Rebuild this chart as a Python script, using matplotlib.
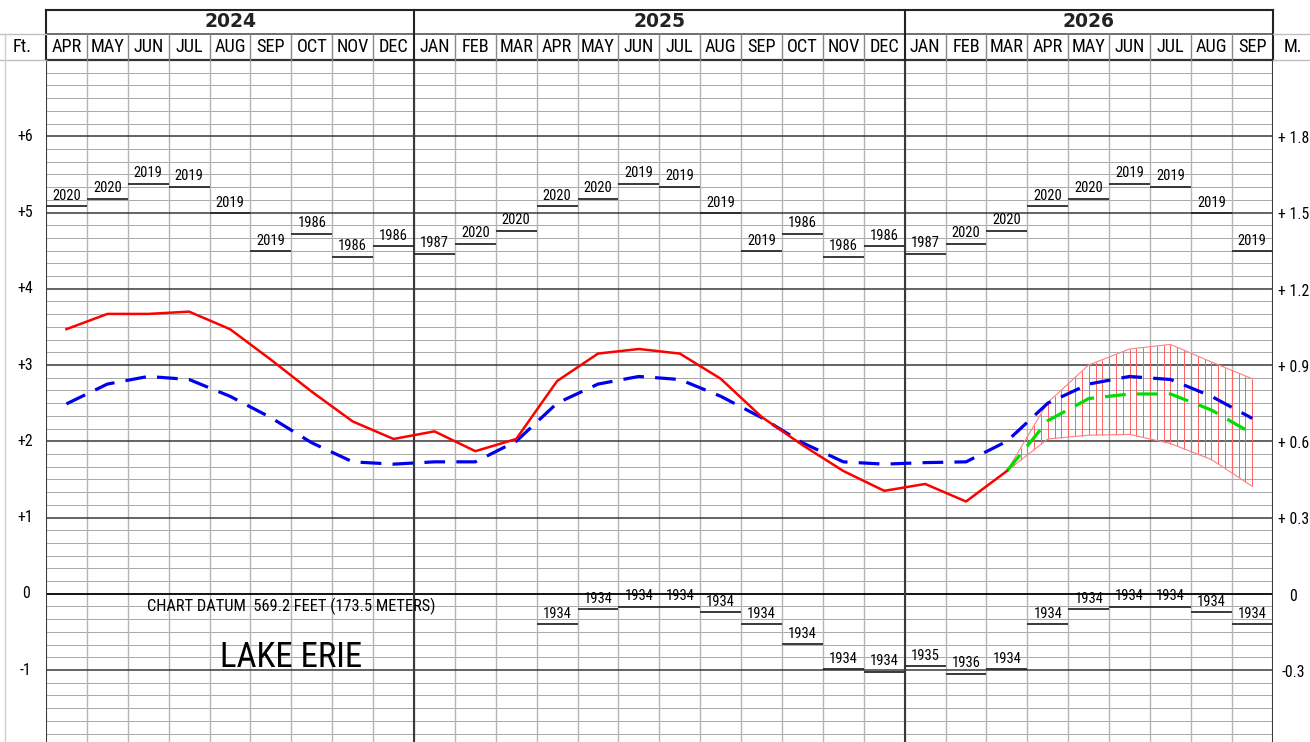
import matplotlib
matplotlib.use("Agg")
import matplotlib.pyplot as plt
from matplotlib.lines import Line2D
from matplotlib import font_manager as fm
import numpy as np

# ---------------- data ----------------
months = ["APR", "MAY", "JUN", "JUL", "AUG", "SEP", "OCT", "NOV", "DEC",
          "JAN", "FEB", "MAR", "APR", "MAY", "JUN", "JUL", "AUG", "SEP", "OCT", "NOV", "DEC",
          "JAN", "FEB", "MAR", "APR", "MAY", "JUN", "JUL", "AUG", "SEP"]
years = ["2024", "2025", "2026"]
year_months = [9, 12, 9]

# recorded monthly levels (ft above chart datum), APR 2024 .. MAR 2026
recorded = [3.47, 3.67, 3.67, 3.70, 3.47, 3.07, 2.65, 2.26, 2.03,
            2.13, 1.87, 2.03, 2.79, 3.15, 3.21, 3.15, 2.82, 2.32, 1.95, 1.61, 1.35,
            1.44, 1.21, 1.61]

# long term average, APR 2024 .. SEP 2026
lt_average = [2.49, 2.75, 2.85, 2.81, 2.59, 2.31, 1.98, 1.73, 1.70,
              1.73, 1.73, 2.00, 2.50, 2.75, 2.85, 2.81, 2.59, 2.31, 1.98, 1.73, 1.70,
              1.72, 1.73, 2.00, 2.50, 2.75, 2.85, 2.81, 2.59, 2.30]

# forecast MAR 2026 .. SEP 2026
forecast_months = ["MAR", "APR", "MAY", "JUN", "JUL", "AUG", "SEP"]
forecast = [1.61, 2.27, 2.56, 2.62, 2.62, 2.41, 2.10]
forecast_high = [1.61, 2.51, 3.00, 3.21, 3.27, 3.04, 2.82]
forecast_low = [1.61, 2.03, 2.08, 2.09, 1.97, 1.76, 1.41]

# record highs for every month shown
record_high = [5.08, 5.18, 5.38, 5.34, 4.99, 4.49, 4.72, 4.42, 4.56,
               4.46, 4.59, 4.76, 5.08, 5.18, 5.38, 5.34, 4.99, 4.49, 4.72, 4.42, 4.56,
               4.46, 4.59, 4.76, 5.08, 5.18, 5.38, 5.34, 4.99, 4.49]
record_high_year = ["2020", "2020", "2019", "2019", "2019", "2019", "1986", "1986", "1986",
                    "1987", "2020", "2020", "2020", "2020", "2019", "2019", "2019", "2019", "1986", "1986", "1986",
                    "1987", "2020", "2020", "2020", "2020", "2019", "2019", "2019", "2019"]

# record lows, shown from APR 2025 .. SEP 2026
record_low_start = 12
record_low = [-0.40, -0.20, -0.17, -0.17, -0.24, -0.40, -0.66, -0.99, -1.02,
              -0.95, -1.05, -0.99, -0.40, -0.20, -0.17, -0.17, -0.24, -0.40]
record_low_year = ["1934", "1934", "1934", "1934", "1934", "1934", "1934", "1934", "1934",
                   "1935", "1936", "1934", "1934", "1934", "1934", "1934", "1934", "1934"]

feet_ticks = [6, 5, 4, 3, 2, 1, 0, -1]
feet_labels = ["+6", "+5", "+4", "+3", "+2", "+1", "0", "-1"]
meter_labels = ["+ 1.8", "+ 1.5", "+ 1.2", "+ 0.9", "+ 0.6", "+ 0.3", "0", "-0.3"]


# ---------------- narrow font lookup ----------------
def pick_narrow():
    prefs = ["LiberationSansNarrow-Regular", "RobotoCondensed-Regular", "RobotoCondensed[",
             "RobotoCondensed", "DejaVuSansCondensed.ttf", "Roboto-Regular"]
    files = [f.fname for f in fm.fontManager.ttflist]
    for p in prefs:
        for f in files:
            base = f.split("/")[-1]
            if p in base and "Italic" not in base:
                return fm.FontProperties(fname=f), p
    return fm.FontProperties(family="Liberation Sans"), "Liberation Sans"


NARROW_FP, NARROW_NAME = pick_narrow()
# scale factor relative to Arial Narrow widths
WIDE = {"LiberationSansNarrow-Regular": 1.0, "RobotoCondensed-Regular": 1.1,
        "RobotoCondensed[": 1.1, "RobotoCondensed": 1.1,
        "DejaVuSansCondensed.ttf": 1.25, "Roboto-Regular": 1.22}.get(NARROW_NAME, 1.22)


def nf(size):
    fp = NARROW_FP.copy()
    fp.set_size(size)
    return fp


def fsz(s):
    return s / WIDE


# ---------------- layout ----------------
W, H = 1310, 742
fig = plt.figure(figsize=(W / 100, H / 100), dpi=100)

x0, x1 = 46, 1272.7
y_top = 60
ax = fig.add_axes([x0 / W, 0, (x1 - x0) / W, (H - y_top) / H])
n = len(months)
ax.set_xlim(0, n)
ax.set_ylim(-1.944, 7.0)
ax.set_xticks([])
ax.set_yticks([])
for s in ax.spines.values():
    s.set_visible(False)

# grid
minor = np.arange(-12, 43) / 6.0
for yv in minor:
    if abs(yv - round(yv)) < 1e-6:
        continue
    ax.axhline(yv, color="#a8a8a8", lw=0.7, zorder=1)
for yv in range(-1, 7):
    ax.axhline(yv, color="#3a3a3a", lw=1.1, zorder=2)
ax.axhline(0, color="#000000", lw=1.1, zorder=2)
for i in range(1, n):
    ax.axvline(i, color="#b5b5b5", lw=1.0, zorder=1)
bounds = np.cumsum(year_months)
for b in [0] + list(bounds):
    ax.axvline(b, color="#3a3a3a", lw=1.5, zorder=2)

xc = np.arange(n) + 0.5

# record highs
for i, (v, yr) in enumerate(zip(record_high, record_high_year)):
    ax.plot([i, i + 1], [v, v], color="#2a2a2a", lw=1.3, zorder=3, solid_capstyle="butt")
    ax.annotate(yr, (i + 0.5, v), xytext=(0, 2.5), textcoords="offset points",
                ha="center", va="bottom", fontproperties=nf(fsz(11.5)), zorder=4)
# record lows
for k, (v, yr) in enumerate(zip(record_low, record_low_year)):
    i = record_low_start + k
    ax.plot([i, i + 1], [v, v], color="#2a2a2a", lw=1.3, zorder=3, solid_capstyle="butt")
    ax.annotate(yr, (i + 0.5, v), xytext=(0, 2.5), textcoords="offset points",
                ha="center", va="bottom", fontproperties=nf(fsz(11.5)), zorder=4)

# forecast band (vertical hatch)
fx = xc[n - len(forecast):]
hatch_x = fx[0] + np.arange(1, 6 * (len(fx) - 1) + 1) / 6.0
ax.vlines(hatch_x, np.interp(hatch_x, fx, forecast_low), np.interp(hatch_x, fx, forecast_high),
          color="#ff6060", lw=0.7, zorder=4)
ax.plot(fx, forecast_high, color="#ff8080", lw=0.8, zorder=4)
ax.plot(fx, forecast_low, color="#ff8080", lw=0.8, zorder=4)

# series
ax.plot(xc, lt_average, color="#0000ee", lw=2.3, dashes=(6.5, 3.5), zorder=6)
ax.plot(fx, forecast, color="#00dd00", lw=2.3, dashes=(6.5, 3.5), zorder=6)
ax.plot(xc[:len(recorded)], recorded, color="#ff0000", lw=1.8, zorder=7)

# axis labels (feet left, metres right)
for t, lab, ml in zip(feet_ticks, feet_labels, meter_labels):
    ax.text(-0.5, t, lab, ha="center", va="center", fontproperties=nf(fsz(12.5)), clip_on=False)
    ax.text(n + 0.5, t - 0.03, ml, ha="center", va="center", fontproperties=nf(fsz(12.5)),
            clip_on=False)

ax.text(6.0, -0.17, "CHART DATUM  569.2 FEET (173.5 METERS)", ha="center", va="center",
        fontproperties=nf(fsz(13)))
ax.text(6.0, -0.84, "LAKE ERIE", ha="center", va="center", fontproperties=nf(fsz(27.5)))

# header
hy0, hy1 = 9.5, 60
hax = fig.add_axes([x0 / W, (H - hy1) / H, (x1 - x0) / W, (hy1 - hy0) / H])
hax.set_xlim(0, n)
hax.set_ylim(0, 1)
hax.axis("off")
ymid = (hy1 - 34) / (hy1 - hy0)
hax.plot([0, n], [1, 1], color="#222222", lw=1.5, clip_on=False)
hax.plot([0, n], [0, 0], color="#333333", lw=1.6, clip_on=False)
hax.plot([0, n], [ymid, ymid], color="#555555", lw=1.2, clip_on=False)
for b in [0] + list(bounds):
    hax.plot([b, b], [0, 1], color="#222222", lw=1.5, clip_on=False)
for i in range(1, n):
    if i in bounds:
        continue
    hax.plot([i, i], [0, ymid], color="#888888", lw=1.0, clip_on=False)
for i, m in enumerate(months):
    hax.text(i + 0.5, ymid / 2, m, ha="center", va="center", fontproperties=nf(fsz(14.5)))
start = 0
for yr, cnt in zip(years, year_months):
    hax.text(start + cnt / 2, (1 + ymid) / 2, yr, ha="center", va="center",
             fontsize=13.5, fontweight="bold", family="DejaVu Sans", color="#222222")
    start += cnt

# lines extending to the figure edges
for ypix in (34, 60):
    fig.add_artist(Line2D([0, x0 / W], [1 - ypix / H] * 2, color="#c0c0c0", lw=1.0))
    fig.add_artist(Line2D([x1 / W, 1], [1 - ypix / H] * 2, color="#c0c0c0", lw=1.0))
fig.add_artist(Line2D([5 / W, 5 / W], [0, 1 - 34 / H], color="#cfcfcf", lw=1.0))
fig.text(22 / W, 1 - 47 / H, "Ft.", ha="center", va="center", fontproperties=nf(fsz(14.5)))
fig.text(1293 / W, 1 - 47 / H, "M.", ha="center", va="center", fontproperties=nf(fsz(14.5)))

fig.savefig("out.png", dpi=100)
